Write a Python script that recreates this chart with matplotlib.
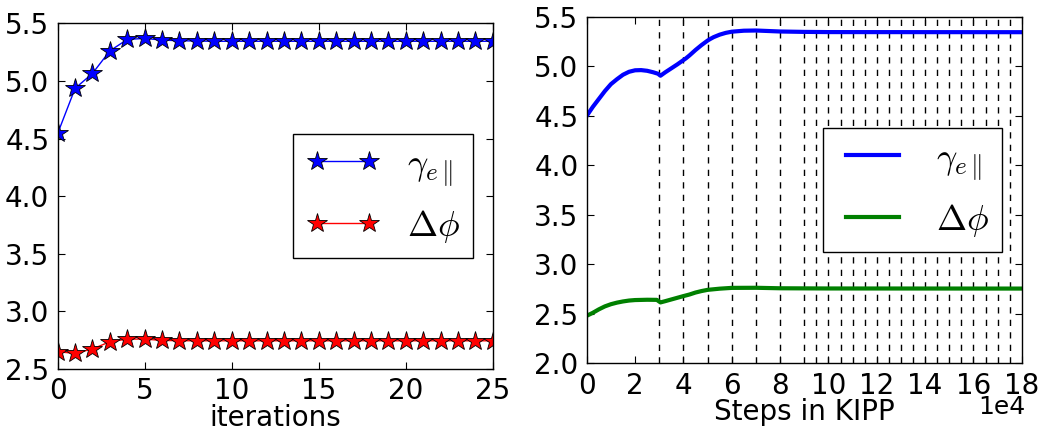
import matplotlib
matplotlib.use("Agg")
import matplotlib.pyplot as plt
import matplotlib.ticker as mticker
import numpy as np

plt.rcParams['font.family'] = ['DejaVu Sans']
plt.rcParams['mathtext.fontset'] = 'cm'

# ---- left panel: per-iteration values ----
iterations = list(range(26))
gamma_iter = [4.545, 4.936, 5.066, 5.262, 5.361, 5.370, 5.355, 5.350, 5.347, 5.345,
              5.345, 5.345, 5.345, 5.345, 5.345, 5.345, 5.345, 5.345, 5.345, 5.345,
              5.345, 5.345, 5.345, 5.345, 5.345, 5.345]
dphi_iter = [2.650, 2.636, 2.674, 2.737, 2.760, 2.760, 2.748, 2.746, 2.745, 2.745,
             2.745, 2.745, 2.745, 2.745, 2.745, 2.745, 2.745, 2.745, 2.745, 2.745,
             2.745, 2.745, 2.745, 2.745, 2.745, 2.745]

# ---- right panel: continuous trace vs KIPP steps ----
steps_gamma = [0, 2500, 5000, 7500, 10000, 12500, 15000, 17500, 20000, 22500, 25000,
               27500, 29500, 30500, 32500, 35000, 37500, 40000, 41000, 42500, 45000,
               47500, 50000, 51000, 52500, 55000, 57500, 60000, 65000, 70000, 75000,
               80000, 90000, 100000, 180000]
gamma_trace = [4.50, 4.59, 4.67, 4.75, 4.82, 4.87, 4.915, 4.945, 4.960, 4.962, 4.955,
               4.940, 4.925, 4.905, 4.940, 4.980, 5.020, 5.063, 5.080, 5.110, 5.165,
               5.215, 5.260, 5.275, 5.295, 5.320, 5.338, 5.350, 5.360, 5.362, 5.357,
               5.352, 5.348, 5.346, 5.345]
steps_dphi = [0, 2500, 5000, 7500, 10000, 12500, 15000, 17500, 20000, 25000, 29000,
              30500, 32500, 35000, 37500, 40000, 42500, 45000, 47500, 50000, 55000,
              60000, 70000, 80000, 100000, 180000]
dphi_trace = [2.48, 2.51, 2.545, 2.575, 2.597, 2.613, 2.625, 2.634, 2.639, 2.642, 2.641,
              2.615, 2.628, 2.645, 2.662, 2.679, 2.695, 2.715, 2.730, 2.742, 2.754,
              2.762, 2.763, 2.758, 2.756, 2.755]

# iteration boundaries in KIPP steps
boundaries = [30000, 40000, 50000, 60000, 70000, 80000, 90000, 95000, 100000, 105000,
              110000, 115000, 120000, 125000, 130000, 135000, 140000, 145000, 150000,
              155000, 160000, 165000, 170000, 175000]

label_g = r'$\gamma_{e\,\|}$'
label_p = r'$\Delta\phi$'

fig = plt.figure(figsize=(10.47, 4.32), dpi=100)
ax1 = fig.add_axes([0.0551, 0.1458, 0.4155, 0.800])
ax2 = fig.add_axes([0.5604, 0.159, 0.4155, 0.802])

ax1.plot(iterations, gamma_iter, '-', color='blue', lw=1, marker='*', ms=15,
         mfc='blue', mec='black', mew=0.6, label=label_g)
ax1.plot(iterations, dphi_iter, '-', color='red', lw=1, marker='*', ms=15,
         mfc='red', mec='black', mew=0.6, label=label_p)
ax1.set_xlim(0, 25)
ax1.set_ylim(2.5, 5.5)
ax1.set_xticks([0, 5, 10, 15, 20, 25])
ax1.set_yticks([2.5, 3.0, 3.5, 4.0, 4.5, 5.0, 5.5])
ax1.set_xlabel('iterations', fontsize=20, labelpad=-1)

legend_kw = dict(loc='upper left', borderaxespad=0, numpoints=2, fontsize=26,
                 handlelength=2.05, labelspacing=0.55, fancybox=False, framealpha=1,
                 edgecolor='black', borderpad=0.35, handletextpad=0.75)
leg1 = ax1.legend(bbox_to_anchor=(0.5416, 0.679), **legend_kw)
leg1.get_frame().set_linewidth(1.0)

for b in boundaries:
    ax2.axvline(b, color='black', ls=(0, (4.5, 4.5)), lw=1, zorder=1)
ax2.plot(steps_gamma, gamma_trace, '-', color='blue', lw=3, label=label_g, zorder=2)
ax2.plot(steps_dphi, dphi_trace, '-', color='green', lw=3, label=label_p, zorder=2)
ax2.set_xlim(0, 180000)
ax2.set_ylim(2.0, 5.5)
ax2.set_xticks(np.arange(0, 180001, 20000))
ax2.xaxis.set_major_formatter(mticker.FuncFormatter(lambda v, p: '%d' % round(v / 1e4)))
ax2.set_yticks([2.0, 2.5, 3.0, 3.5, 4.0, 4.5, 5.0, 5.5])
ax2.text(1.008, -0.092, '1e4', transform=ax2.transAxes, ha='right', va='top',
         fontsize=18)
ax2.set_xlabel('Steps in KIPP', fontsize=20, labelpad=-1)
leg2 = ax2.legend(bbox_to_anchor=(0.5425, 0.678), **legend_kw)
leg2.get_frame().set_linewidth(1.0)

for ax in (ax1, ax2):
    ax.tick_params(direction='in', top=True, right=True, labelsize=20, length=5,
                   width=0.8, pad=6)
    for s in ax.spines.values():
        s.set_linewidth(1.0)

fig.savefig('out.png', dpi=100)
